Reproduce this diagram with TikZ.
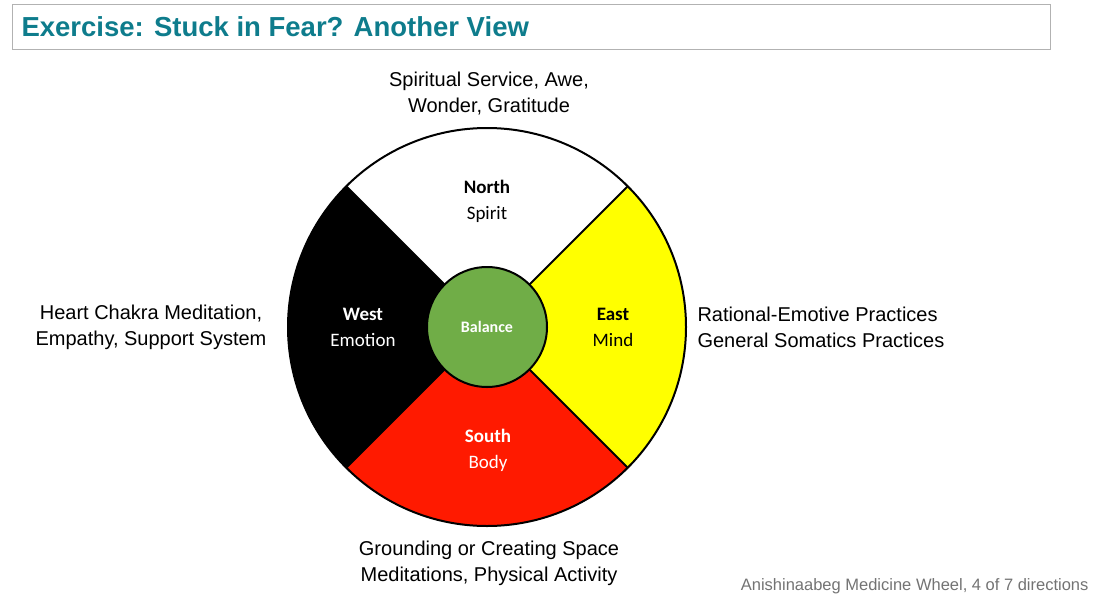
\documentclass[tikz,border=0pt]{standalone}
\usepackage{fontspec}
\setmainfont{Liberation Sans}
\newfontfamily\calfont{Carlito}
\usetikzlibrary{positioning}
\definecolor{titleteal}{HTML}{0E7C8C}
\definecolor{balgreen}{HTML}{70AD47}
\definecolor{southred}{HTML}{FF1A00}
\definecolor{eastyellow}{HTML}{FFFF00}
\tikzset{
  outer/.style={align=center,font=\fontsize{20}{26}\selectfont},
  dirname/.style={align=center,font=\calfont\fontsize{19}{26}\selectfont},
}
\begin{document}
\begin{tikzpicture}[x=1pt,y=-1pt]
\useasboundingbox (0,0) rectangle (1098,600);
% title
\draw[gray!60,line width=1pt] (12,4) rectangle (1050,49);
\node[anchor=west,text=titleteal,font=\bfseries\fontsize{27.5}{32}\selectfont] (title) at (18,27) {Exercise: Stuck in Fear? Another View};
% wheel (y axis points down, so 270 is north)
\coordinate (c) at (487,327);
\fill[white] (c) -- ++(225:199) arc[start angle=225,end angle=315,radius=199] -- cycle;
\fill[black] (c) -- ++(135:199) arc[start angle=135,end angle=225,radius=199] -- cycle;
\fill[southred] (c) -- ++(45:199) arc[start angle=45,end angle=135,radius=199] -- cycle;
\fill[eastyellow] (c) -- ++(-45:199) arc[start angle=-45,end angle=45,radius=199] -- cycle;
\draw[line width=2pt] (c) circle[radius=199];
\foreach \a in {45,135,225,315}
  \draw[line width=2pt] (c) -- ++(\a:199);
\draw[line width=2pt,fill=balgreen] (c) circle[radius=60];
\node[text=white,font=\calfont\bfseries\fontsize{16}{20}\selectfont] (bal) at (c) {Balance};
% directions
\node[dirname] (north) at (487,201) {\textbf{North}\\Spirit};
\node[dirname,text=white] (west) at (363,327) {\textbf{West}\\Emotion};
\node[dirname] (east) at (613,327) {\textbf{East}\\Mind};
\node[dirname,text=white] (south) at (488,450) {\textbf{South}\\Body};
% practices
\node[outer] (topt) at (489,94) {Spiritual Service, Awe,\\Wonder, Gratitude};
\node[outer] (leftt) at (151,327) {Heart Chakra Meditation,\\Empathy, Support System};
\node[outer,align=left,anchor=west] (rightt) at (694,327) {Rational-Emotive Practices\\General Somatics Practices};
\node[outer] (bott) at (489,563) {Grounding or Creating Space\\Meditations, Physical Activity};
\node[anchor=east,text=gray!90!black,font=\fontsize{16.5}{20}\selectfont] (src) at (1092,586) {Anishinaabeg Medicine Wheel, 4 of 7 directions};
\end{tikzpicture}
\end{document}
